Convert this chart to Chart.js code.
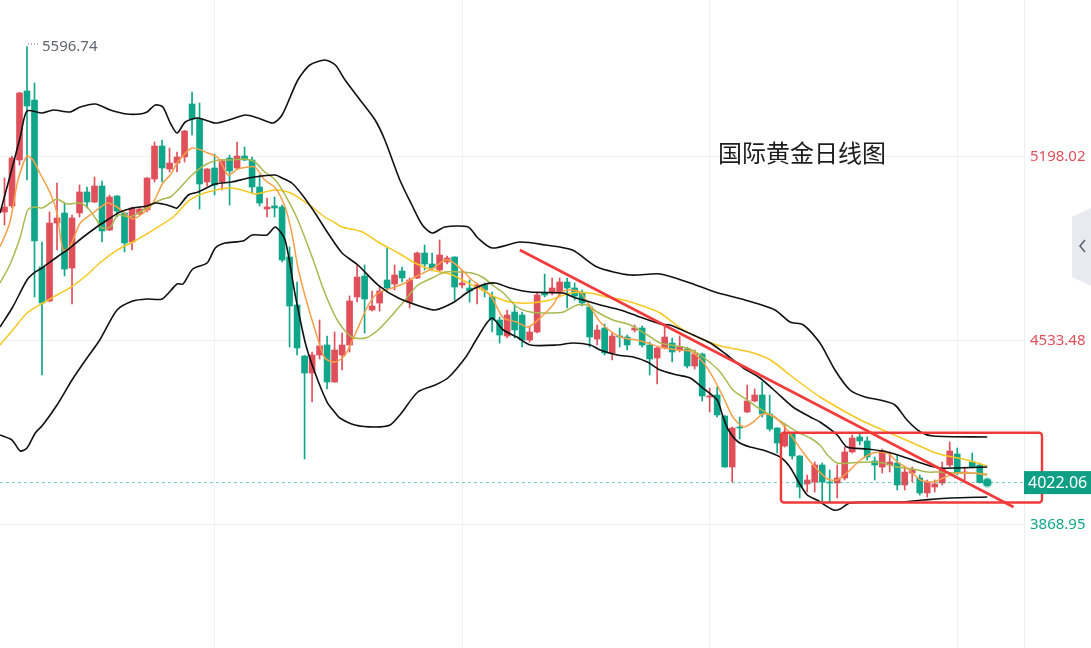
<!DOCTYPE html>
<html>
<head>
<meta charset="utf-8">
<title>国际黄金日线图</title>
<script src="https://cdn.jsdelivr.net/npm/chart.js@4.4.1/dist/chart.umd.min.js"></script>
<style>
  html, body { margin: 0; padding: 0; background: #fff; }
  #wrap { width: 1091px; height: 648px; position: relative; }
</style>
</head>
<body>
<div id="wrap"><canvas id="kline"></canvas></div>
<script>
// Daily candles (index 0 = first visible day)
const opens = [4999.4,5021.1,5187.2,5436.4,5403.9,4800.7,4677.9,4959.6,4995.8,4797.1,
  4995.8,5071.6,5035.5,5093.3,4934.3,5057.2,4995.8,4891.0,4992.2,5006.6,
  5118.6,5237.7,5154.7,5176.3,5198.0,5389.4,5335.2,5107.7,5158.3,5107.7,
  5194.4,5158.3,5201.6,5187.2,5089.7,5010.2,5021.1,5017.4,4836.8,4663.5,
  4479.3,4417.9,4482.9,4519.0,4385.4,4482.9,4519.0,4692.4,4768.2,4645.4,
  4670.7,4753.8,4739.3,4786.3,4674.3,4761.0,4851.3,4811.6,4789.9,4818.8,
  4836.8,4735.7,4724.9,4724.9,4735.7,4692.4,4609.3,4551.5,4638.2,4627.4,
  4537.1,4566.0,4706.8,4706.8,4706.8,4746.6,4724.9,4706.8,4656.3,4540.7,
  4580.4,4490.1,4551.5,4547.9,4573.2,4580.4,4519.0,4472.1,4508.2,4526.2,
  4501.0,4504.6,4443.2,4486.5,4331.2,4338.4,4262.6,4078.4,4222.9,4277.0,
  4316.8,4338.4,4269.8,4219.2,4154.2,4197.6,4118.1,4017.0,4024.2,4085.6,
  4024.2,4020.6,4038.7,4132.6,4186.8,4172.3,4100.1,4078.4,4085.6,4092.8,
  4013.4,4056.7,4038.7,3984.5,4006.2,4020.6,4085.6,4125.3,4056.7,4096.5,
  4085.6];
const highs = [5122.2,5201.6,5432.0,5596.74,5465.3,4891.0,4999.4,5104.1,5031.9,4988.5,
  5096.9,5089.7,5125.8,5111.4,5060.8,5059.0,4998.0,5017.4,5017.4,5124.0,
  5252.2,5259.4,5230.5,5216.0,5294.0,5432.8,5393.0,5156.0,5208.8,5187.2,
  5205.2,5252.2,5234.1,5198.0,5133.0,5049.9,5053.5,5024.7,4873.0,4746.6,
  4481.0,4493.7,4609.3,4551.5,4566.0,4562.4,4696.0,4808.0,4808.0,4714.0,
  4728.5,4869.3,4808.0,4800.7,4761.0,4854.9,4880.2,4851.3,4898.2,4840.5,
  4838.0,4789.9,4753.8,4743.0,4743.0,4710.4,4620.1,4645.4,4663.5,4638.2,
  4584.0,4710.4,4775.5,4761.0,4761.0,4761.0,4743.0,4717.7,4663.5,4591.3,
  4594.9,4562.4,4580.4,4555.1,4591.3,4587.6,4529.9,4511.8,4584.0,4544.3,
  4551.5,4511.8,4501.0,4490.1,4363.7,4367.3,4264.0,4222.9,4259.0,4374.5,
  4360.1,4385.4,4338.4,4221.0,4230.1,4201.2,4120.0,4049.5,4096.5,4092.8,
  4067.6,4085.6,4150.6,4194.0,4197.6,4186.8,4114.5,4143.4,4132.6,4121.7,
  4078.4,4078.4,4049.5,4031.5,4031.5,4096.5,4168.7,4147.0,4078.4,4129.0,
  4092.8];
const lows = [4952.4,5013.8,5169.1,5115.0,4692.4,4410.7,4675.0,4862.1,4768.2,4667.1,
  4981.3,5013.8,5033.0,4891.0,4932.0,4981.3,4854.9,4862.1,4988.5,4999.4,
  5107.7,5107.7,5143.8,5143.8,5179.9,5277.4,5010.2,5093.3,5060.8,5078.8,
  5024.7,5156.0,5185.0,5068.0,5021.1,4981.3,4981.3,4818.8,4511.8,4482.9,
  4107.3,4313.1,4468.5,4360.1,4384.0,4428.7,4493.7,4674.3,4562.4,4641.8,
  4641.8,4717.7,4717.7,4746.6,4652.7,4759.0,4789.9,4786.3,4782.7,4811.6,
  4681.6,4724.9,4674.3,4667.1,4692.4,4566.0,4526.2,4544.3,4544.3,4511.8,
  4529.9,4562.4,4692.4,4699.6,4692.4,4652.7,4681.6,4659.9,4511.8,4519.0,
  4482.9,4464.8,4511.8,4501.0,4566.0,4511.8,4410.7,4378.2,4504.6,4457.6,
  4493.7,4436.0,4432.4,4316.8,4277.0,4259.0,4077.0,4024.2,4179.5,4275.0,
  4313.1,4259.0,4208.4,4129.0,4150.6,4107.3,3966.5,3988.1,3988.1,3952.0,
  3952.0,3966.5,4031.5,4129.0,4157.9,4103.7,4031.5,4056.7,4060.3,3995.4,
  3995.4,4024.2,3977.3,3970.1,3988.1,4013.4,4078.4,4049.5,4031.5,4074.8,
  4020.6];
const closes = [5017.4,5194.4,5429.2,5382.2,4894.6,4670.7,4959.6,4977.7,4793.5,4977.7,
  5071.6,5035.5,5093.3,4930.7,5053.5,5003.0,4887.4,5013.8,5010.2,5122.2,
  5237.7,5158.3,5176.3,5198.0,5291.9,5335.2,5100.5,5154.7,5096.9,5183.5,
  5147.4,5201.6,5187.2,5089.7,5031.9,5017.4,5013.8,4826.0,4659.9,4508.2,
  4417.9,4482.9,4515.4,4385.4,4501.0,4519.0,4677.9,4764.6,4685.2,4659.9,
  4714.0,4724.9,4771.8,4761.0,4753.8,4851.3,4811.6,4797.1,4844.1,4833.2,
  4728.5,4743.0,4714.0,4735.7,4717.7,4609.3,4555.1,4627.4,4573.2,4537.1,
  4566.0,4699.6,4699.6,4724.9,4746.6,4724.9,4696.0,4670.7,4547.9,4573.2,
  4490.1,4551.5,4547.9,4519.0,4580.4,4519.0,4468.5,4508.2,4547.9,4493.7,
  4511.8,4443.2,4486.5,4334.8,4334.8,4266.2,4078.4,4219.2,4219.2,4316.8,
  4338.4,4269.8,4215.6,4165.1,4201.2,4118.1,4006.2,4031.5,4085.6,4024.2,
  4020.6,4038.7,4132.6,4183.1,4172.3,4114.5,4085.6,4136.2,4096.5,4013.4,
  4060.3,4067.6,3984.5,4024.2,4017.0,4071.2,4136.2,4056.7,4060.3,4078.4,
  4022.06];

// Indicator lines: [day index, price]
const bollUpper = [[-0.6,4995.8],[0.7,5125.8],[2.1,5270.3],[3.0,5364.2],[5.0,5356.9],[6.5,5367.8],
  [8.7,5360.5],[10.1,5378.6],[12.1,5389.4],[14.1,5367.8],[16.3,5353.3],[18.1,5353.3],[19.0,5360.5],
  [20.1,5385.8],[21.1,5378.6],[22.1,5320.8],[23.0,5284.7],[24.1,5324.4],[25.8,5338.9],[28.1,5320.8],
  [30.3,5335.2],[32.1,5349.7],[33.8,5338.9],[35.8,5320.8],[37.0,5349.7],[39.1,5476.1],[40.7,5530.3],
  [42.7,5548.3],[44.1,5530.3],[45.4,5476.1],[47.4,5403.9],[49.4,5331.6],[50.7,5259.4],[52.7,5115.0],
  [54.3,5024.7],[55.7,4952.4],[57.0,4923.5],[58.7,4945.2],[61.8,4945.2],[63.1,4905.5],[65.0,4869.3],
  [68.7,4891.0],[72.1,4880.2],[75.7,4862.1],[79.0,4800.7],[83.4,4771.8],[87.4,4775.5],[91.4,4743.0],
  [94.7,4710.4],[98.7,4681.6],[102.7,4645.4],[104.7,4602.1],[106.5,4591.3],[108.7,4526.2],[110.7,4428.7],
  [112.7,4356.5],[114.7,4331.2],[116.7,4320.4],[118.7,4302.3],[120.3,4248.1],[122.1,4204.8],[123.8,4190.4],
  [131.0,4186.8]];
const bollMid = [[-0.6,4584.0],[1.1,4656.3],[3.0,4753.8],[4.1,4782.7],[5.0,4797.1],[7.0,4836.8],
  [8.7,4869.3],[10.5,4909.1],[12.3,4945.2],[13.7,4970.5],[15.4,4999.4],[17.1,5013.8],[19.0,5021.1],
  [20.1,5031.9],[21.1,5028.3],[22.1,5021.1],[23.0,5013.8],[24.5,5060.8],[25.8,5071.6],[28.1,5100.5],
  [30.3,5107.7],[32.5,5122.2],[34.3,5129.4],[36.1,5133.0],[37.0,5122.2],[38.3,5104.1],[39.7,5060.8],
  [41.4,4995.8],[43.1,4923.5],[45.0,4851.3],[47.1,4808.0],[49.8,4735.7],[52.5,4688.8],[56.1,4652.7],
  [57.4,4645.4],[59.7,4670.7],[61.8,4710.4],[63.7,4735.7],[65.4,4743.0],[67.4,4724.9],[70.1,4710.4],
  [74.5,4706.8],[75.8,4692.4],[77.1,4681.6],[79.4,4663.5],[82.1,4645.4],[84.3,4623.8],[87.4,4594.9],
  [88.7,4591.3],[91.8,4555.1],[94.1,4526.2],[96.3,4482.9],[98.5,4436.0],[100.7,4399.8],[103.0,4345.7],
  [105.1,4295.1],[107.4,4259.0],[108.7,4240.9],[111.0,4194.0],[112.3,4150.6],[115.0,4143.4],[117.7,4132.6],
  [120.3,4110.9],[123.0,4085.6],[124.7,4074.8],[127.0,4074.8],[131.0,4078.4]];
const bollLower = [[-0.6,4194.0],[1.0,4175.9],[2.1,4136.2],[3.0,4147.0],[4.1,4201.2],[5.1,4230.1],
  [7.0,4302.3],[9.0,4392.6],[11.0,4472.1],[12.7,4537.1],[15.0,4645.4],[17.1,4677.9],[19.0,4685.2],
  [21.0,4685.2],[23.0,4739.3],[23.8,4739.3],[25.1,4793.5],[27.0,4815.2],[28.1,4869.3],[29.4,4887.4],
  [31.8,4894.6],[33.0,4916.3],[35.0,4916.3],[36.1,4945.2],[37.4,4898.2],[38.7,4706.8],[40.1,4526.2],
  [41.4,4417.9],[43.0,4313.1],[44.1,4273.4],[44.7,4255.4],[46.7,4230.1],[49.4,4222.9],[51.4,4230.1],
  [52.7,4266.2],[55.1,4349.3],[57.4,4374.5],[59.1,4399.8],[61.4,4472.1],[62.7,4529.9],[64.1,4591.3],
  [65.0,4616.5],[66.5,4573.2],[68.3,4547.9],[70.1,4519.0],[73.7,4519.0],[75.8,4526.2],[78.1,4519.0],
  [79.4,4501.0],[81.7,4482.9],[83.8,4475.7],[85.7,4457.6],[87.4,4428.7],[89.7,4410.7],[91.4,4399.8],
  [93.1,4363.7],[95.0,4320.4],[95.7,4266.2],[96.5,4212.0],[97.8,4168.7],[99.4,4150.6],[101.1,4139.8],
  [103.4,4114.5],[104.7,4078.4],[105.7,4031.5],[107.0,3977.3],[108.3,3959.2],[110.5,3923.1],[111.4,3926.7],
  [112.7,3948.4],[119.4,3952.0],[122.5,3959.2],[126.1,3966.5],[131.0,3970.1]];
const ma5 = [[-0.6,4873.0],[0.7,4959.6],[1.8,5115.0],[3.0,5201.6],[3.8,5187.2],[4.7,5140.2],[6.1,5068.0],
  [7.0,4995.8],[7.8,4862.1],[8.7,4873.0],[10.1,4959.6],[11.8,4995.8],[13.7,5031.9],[15.0,5017.4],
  [16.3,4988.5],[17.1,4974.1],[18.5,4995.8],[19.8,5031.9],[21.1,5104.1],[22.1,5133.0],[23.1,5179.9],
  [25.0,5230.5],[27.1,5212.4],[28.5,5194.4],[29.8,5133.0],[31.1,5154.7],[32.5,5161.9],[33.4,5161.9],
  [34.7,5115.0],[36.1,5086.1],[37.4,5017.4],[38.3,4923.5],[39.1,4800.7],[40.1,4692.4],[41.4,4573.2],
  [42.7,4472.1],[44.1,4457.6],[45.4,4482.9],[46.7,4555.1],[48.5,4663.5],[49.8,4706.8],[51.7,4724.9],
  [53.4,4743.0],[54.7,4764.6],[56.1,4782.7],[57.4,4800.7],[58.7,4826.0],[59.7,4818.8],[61.0,4789.9],
  [62.3,4753.8],[63.7,4724.9],[65.0,4688.8],[66.5,4616.5],[68.3,4602.1],[69.8,4584.0],[71.4,4616.5],
  [73.1,4663.5],[74.1,4706.8],[75.0,4717.7],[76.7,4710.4],[78.1,4656.3],[79.4,4602.1],[81.1,4562.4],
  [82.5,4544.3],[84.3,4537.1],[85.7,4526.2],[87.4,4511.8],[89.7,4501.0],[91.4,4497.4],[93.1,4457.6],
  [94.5,4399.8],[95.8,4331.2],[97.1,4259.0],[98.5,4222.9],[99.8,4240.9],[101.1,4269.8],[102.5,4262.6],
  [103.8,4230.1],[105.1,4183.1],[106.5,4129.0],[107.8,4085.6],[109.7,4035.1],[111.0,4031.5],[112.3,4056.7],
  [114.1,4103.7],[115.8,4129.0],[117.7,4129.0],[119.0,4096.5],[120.3,4074.8],[122.1,4031.5],[123.8,4024.2],
  [125.1,4038.7],[127.0,4056.7],[129.1,4056.7],[131.0,4049.5]];
const ma10 = [[-0.6,4743.0],[0.7,4808.0],[2.1,4909.1],[3.1,5006.6],[4.1,5017.4],[5.0,5013.8],[6.1,5031.9],
  [7.0,5046.3],[8.3,5028.3],[10.1,5031.9],[11.1,5013.8],[12.3,4970.5],[13.0,4941.6],[14.1,4945.2],
  [15.1,4988.5],[16.7,4981.3],[18.1,4999.4],[19.4,5024.7],[21.1,5046.3],[22.1,5053.5],[23.1,5078.8],
  [25.0,5133.0],[26.7,5169.1],[28.5,5187.2],[30.3,5187.2],[32.1,5190.8],[33.4,5179.9],[34.7,5143.8],
  [36.1,5115.0],[37.4,5060.8],[39.1,4970.5],[41.0,4836.8],[42.7,4706.8],[44.5,4602.1],[46.3,4547.9],
  [48.1,4544.3],[49.8,4573.2],[51.7,4627.4],[53.4,4681.6],[55.1,4735.7],[57.0,4761.0],[58.7,4782.7],
  [60.5,4782.7],[62.3,4779.1],[63.7,4764.6],[65.4,4728.5],[66.5,4706.8],[68.3,4656.3],[70.1,4638.2],
  [72.3,4634.6],[74.5,4638.2],[76.3,4663.5],[77.7,4663.5],[79.0,4638.2],[81.1,4609.3],[83.4,4591.3],
  [85.7,4555.1],[87.4,4526.2],[91.0,4508.2],[93.1,4475.7],[95.4,4421.5],[97.1,4356.5],[99.0,4320.4],
  [100.3,4295.1],[102.1,4266.2],[103.8,4237.3],[105.7,4204.8],[107.4,4183.1],[108.7,4157.9],[109.7,4121.7],
  [111.0,4092.8],[112.7,4092.8],[115.0,4096.5],[117.1,4092.8],[119.0,4078.4],[121.1,4071.2],[123.0,4060.3],
  [124.7,4060.3],[126.5,4056.7],[129.1,4056.7],[131.0,4053.1]];
const ma30 = [[-0.6,4519.0],[1.1,4573.2],[3.0,4634.6],[5.1,4670.7],[7.0,4699.6],[8.7,4724.9],[11.0,4771.8],
  [12.7,4815.2],[15.0,4862.1],[17.1,4891.0],[19.8,4934.3],[22.5,4981.3],[24.7,5042.8],[27.1,5071.6],
  [30.3,5086.1],[32.5,5071.6],[33.4,5064.4],[34.7,5071.6],[36.1,5078.8],[37.8,5071.6],[39.1,5053.5],
  [41.0,5017.4],[42.7,4981.3],[44.1,4959.6],[45.0,4945.2],[47.7,4927.1],[49.8,4891.0],[52.5,4851.3],
  [54.7,4815.2],[57.0,4789.9],[59.7,4771.8],[61.8,4743.0],[63.7,4717.7],[65.4,4692.4],[67.4,4674.3],
  [70.1,4670.7],[72.7,4681.6],[75.4,4706.8],[78.1,4706.8],[80.3,4692.4],[82.5,4681.6],[84.7,4663.5],
  [87.4,4634.6],[90.5,4573.2],[95.0,4519.0],[99.4,4493.7],[102.1,4464.8],[104.7,4410.7],[107.0,4363.7],
  [108.7,4331.2],[114.1,4248.1],[117.7,4204.8],[121.1,4165.1],[123.8,4132.6],[125.7,4118.1],[127.8,4107.3],
  [129.7,4092.8],[131.0,4082.0]];

// Drawn annotations, in day index / price
const trendLine = [[68.7,4862.1],[134.5,3933.9]];
const rangeBox = { x1: 103.5, x2: 138.3, top: 4202.3, bottom: 3950.2 };
const lastPrice = 4022.06;
const highMark = { idx: 3, price: 5596.74 };
const yTicks = [3868.95, 4533.48, 5198.02];
const xGrid = [28, 61, 94, 127];

const UP = '#e0505b';
const DOWN = '#0fa68a';
const barColor = ctx => closes[ctx.dataIndex] >= opens[ctx.dataIndex] ? UP : DOWN;
const toPts = arr => arr.map(p => ({ x: p[0], y: p[1] }));

function lineSet(label, pts, color, width, order) {
  return {
    type: 'line', label, data: toPts(pts), borderColor: color, borderWidth: width,
    pointRadius: 0, tension: 0.25, fill: false, order
  };
}

function noPad(s) {
  s.paddingTop = 0; s.paddingBottom = 0; s.paddingLeft = 0; s.paddingRight = 0;
}

const decor = {
  id: 'decor',
  afterDatasetsDraw(chart) {
    const { ctx, scales: { x, y } } = chart;
    ctx.save();
    // rounded range box
    const bx1 = x.getPixelForValue(rangeBox.x1), bx2 = x.getPixelForValue(rangeBox.x2);
    const by1 = y.getPixelForValue(rangeBox.top), by2 = y.getPixelForValue(rangeBox.bottom);
    ctx.strokeStyle = '#f03a3a';
    ctx.lineWidth = 2.4;
    ctx.beginPath();
    ctx.roundRect(bx1, by1, bx2 - bx1, by2 - by1, 3);
    ctx.stroke();

    // high marker
    const hx = x.getPixelForValue(highMark.idx), hy = y.getPixelForValue(highMark.price);
    ctx.strokeStyle = '#777';
    ctx.lineWidth = 1;
    ctx.setLineDash([1, 2]);
    ctx.beginPath();
    ctx.moveTo(hx + 1, hy - 2.5);
    ctx.lineTo(hx + 13, hy - 2.5);
    ctx.stroke();
    ctx.setLineDash([]);
    ctx.fillStyle = '#62636e';
    ctx.font = '15px "Noto Sans", sans-serif';
    ctx.textBaseline = 'middle';
    ctx.textAlign = 'left';
    ctx.fillText(highMark.price.toFixed(2), hx + 15, hy);

    // title
    ctx.fillStyle = '#1c1c1c';
    ctx.font = '24px "Noto Sans CJK SC", sans-serif';
    ctx.fillText('国际黄金日线图', 718, 153);
    ctx.restore();
  },
  afterDraw(chart) {
    const { ctx, chartArea, scales: { y } } = chart;
    ctx.save();
    // last price tag
    const py = y.getPixelForValue(lastPrice);
    ctx.fillStyle = '#0e9f84';
    ctx.fillRect(chartArea.right, py - 11.5, chart.width - chartArea.right, 23);
    ctx.fillStyle = '#fff';
    ctx.font = '16px "Noto Sans", sans-serif';
    ctx.textBaseline = 'middle';
    ctx.textAlign = 'left';
    ctx.fillText(lastPrice.toFixed(2), chartArea.right + 4, py + 1);

    // collapse tab on the right edge
    const w = chart.width;
    ctx.fillStyle = '#e9eaf0';
    ctx.beginPath();
    ctx.moveTo(w, 208);
    ctx.lineTo(w - 19, 217);
    ctx.lineTo(w - 19, 277);
    ctx.lineTo(w, 286);
    ctx.closePath();
    ctx.fill();
    ctx.strokeStyle = '#5c6070';
    ctx.lineWidth = 1.6;
    ctx.beginPath();
    ctx.moveTo(w - 6, 240);
    ctx.lineTo(w - 11, 246);
    ctx.lineTo(w - 6, 252);
    ctx.stroke();
    ctx.restore();
  }
};

new Chart(document.getElementById('kline'), {
  type: 'bar',
  data: {
    datasets: [
      { type: 'line', label: 'trend', data: toPts(trendLine), borderColor: '#f23c3c', borderWidth: 2.6,
        pointRadius: 0, order: 0 },
      { type: 'line', label: 'last', data: [{ x: 131, y: lastPrice }], showLine: false,
        pointRadius: 4, pointBackgroundColor: '#0fa68a', pointBorderColor: 'rgba(15,166,138,0.3)',
        pointBorderWidth: 3, order: 0 },
      lineSet('MA5', ma5, '#f7a04a', 1.5, 2),
      lineSet('MA10', ma10, '#a9b94f', 1.5, 2),
      lineSet('MA30', ma30, '#f8c821', 1.5, 2),
      lineSet('BOLL UP', bollUpper, '#111', 1.6, 1),
      lineSet('BOLL MID', bollMid, '#111', 1.6, 1),
      lineSet('BOLL DN', bollLower, '#111', 1.6, 1),
      { type: 'line', label: 'price line', data: [{ x: -0.6, y: lastPrice }, { x: 136, y: lastPrice }],
        borderColor: 'rgba(15,166,138,0.6)', borderWidth: 1, borderDash: [3, 3], pointRadius: 0, order: 8 },
      { label: 'body', data: opens.map((o, i) => ({ x: i, y: [o, closes[i]] })),
        backgroundColor: barColor, barThickness: 6, minBarLength: 1, grouped: false, order: 9 },
      { label: 'wick', data: highs.map((h, i) => ({ x: i, y: [lows[i], h] })),
        backgroundColor: barColor, barThickness: 1, grouped: false, order: 10 }
    ]
  },
  options: {
    responsive: true,
    maintainAspectRatio: false,
    animation: false,
    events: [],
    layout: { padding: 0, autoPadding: false },
    plugins: { legend: { display: false }, tooltip: { enabled: false } },
    scales: {
      x: {
        type: 'linear', min: -0.6, max: 135.9, offset: false, bounds: 'data',
        grid: { color: '#f1f2f6', drawTicks: false, offset: false },
        border: { display: false },
        ticks: { display: false },
        afterBuildTicks: s => { s.ticks = xGrid.map(v => ({ value: v })); },
        afterFit: s => { s.height = 0; noPad(s); }
      },
      y: {
        type: 'linear', position: 'right', min: 3424.7, max: 5765.04,
        grid: { color: '#f1f2f6', drawTicks: false },
        border: { display: true, color: '#eceef3' },
        ticks: {
          padding: 6,
          font: { family: '"Noto Sans", sans-serif', size: 15 },
          color: c => c.tick && c.tick.value > lastPrice ? UP : DOWN,
          callback: v => Number(v).toFixed(2)
        },
        afterBuildTicks: s => { s.ticks = yTicks.map(v => ({ value: v })); },
        afterFit: s => { s.width = 67; noPad(s); }
      }
    }
  },
  plugins: [decor]
});
</script>
</body>
</html>
